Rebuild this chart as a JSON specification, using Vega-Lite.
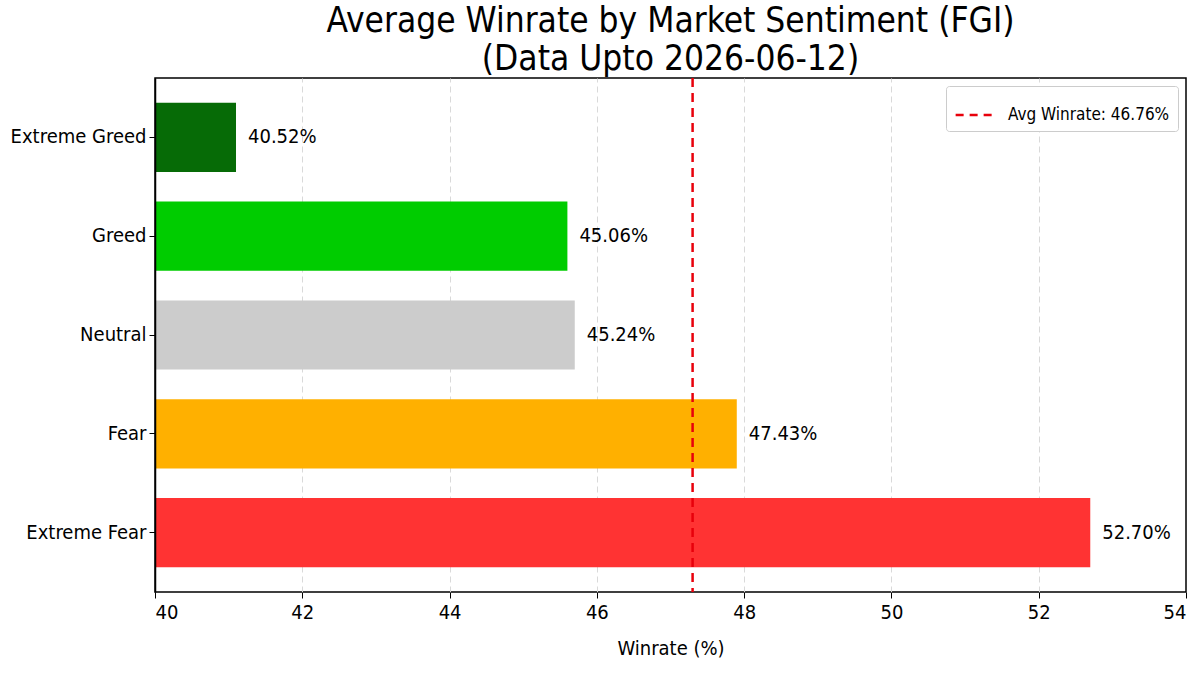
{
  "$schema": "https://vega.github.io/schema/vega-lite/v6.json",
  "autosize": "none",
  "width": 1031,
  "height": 514,
  "padding": {"left": 155, "top": 78, "right": 14, "bottom": 83},
  "background": "white",
  "title": {
    "text": ["Average Winrate by Market Sentiment (FGI)", "(Data Upto 2026-06-12)"],
    "font": "DejaVu Sans Condensed, DejaVu Sans",
    "fontSize": 35,
    "fontWeight": "normal",
    "color": "black",
    "lineHeight": 38,
    "anchor": "middle",
    "offset": 0
  },
  "config": {
    "font": "DejaVu Sans Condensed, DejaVu Sans",
    "view": {"stroke": "black", "strokeWidth": 1.5},
    "axis": {
      "labelFont": "DejaVu Sans Condensed, DejaVu Sans",
      "titleFont": "DejaVu Sans Condensed, DejaVu Sans",
      "labelColor": "black",
      "titleColor": "black",
      "tickColor": "black",
      "domainColor": "black",
      "labelFontSize": 20,
      "titleFontSize": 20,
      "titleFontWeight": "normal",
      "tickSize": 6
    }
  },
  "layer": [
    {
      "data": {
        "values": [
          {"sentiment": "Extreme Greed", "winrate": 41.1, "label": "40.52%"},
          {"sentiment": "Greed", "winrate": 45.6, "label": "45.06%"},
          {"sentiment": "Neutral", "winrate": 45.7, "label": "45.24%"},
          {"sentiment": "Fear", "winrate": 47.9, "label": "47.43%"},
          {"sentiment": "Extreme Fear", "winrate": 52.7, "label": "52.70%"}
        ]
      },
      "encoding": {
        "y": {
          "field": "sentiment",
          "type": "nominal",
          "sort": ["Extreme Greed", "Greed", "Neutral", "Fear", "Extreme Fear"],
          "scale": {"paddingInner": 0.3, "paddingOuter": 0.25},
          "axis": {"title": null, "grid": false, "labelPadding": 3, "domain": true, "domainWidth": 1.5, "zindex": 1}
        },
        "x": {
          "field": "winrate",
          "type": "quantitative",
          "scale": {"domain": [40, 54], "nice": false, "zero": false},
          "axis": {
            "title": "Winrate (%)",
            "values": [40, 42, 44, 46, 48, 50, 52, 54],
            "format": "d",
            "grid": true,
            "gridDash": [6, 4],
            "gridColor": "#d9d9d9",
            "gridWidth": 1,
            "gridOpacity": {"condition": {"test": "datum.value == 40 || datum.value == 54", "value": 0}, "value": 1},
            "labelPadding": 4,
            "titlePadding": 16,
            "domain": false
          }
        }
      },
      "layer": [
        {
          "mark": {"type": "bar"},
          "encoding": {
            "x2": {"datum": 40},
            "color": {
              "field": "sentiment",
              "type": "nominal",
              "scale": {
                "domain": ["Extreme Greed", "Greed", "Neutral", "Fear", "Extreme Fear"],
                "range": ["#066b06", "#00cc00", "#cccccc", "#ffb000", "#ff3333"]
              },
              "legend": null
            }
          }
        },
        {
          "mark": {"type": "text", "align": "left", "baseline": "middle", "dx": 12, "fontSize": 20, "color": "black"},
          "encoding": {"text": {"field": "label", "type": "nominal"}}
        }
      ]
    },
    {
      "data": {"values": [{"avg": 47.3, "name": "Avg Winrate: 46.76%"}]},
      "mark": {"type": "rule", "strokeDash": [9, 6], "strokeWidth": 2.5},
      "encoding": {
        "x": {"field": "avg", "type": "quantitative"},
        "color": {
          "field": "name",
          "type": "nominal",
          "scale": {"range": ["#e8000b"]},
          "legend": {
            "title": null,
            "orient": "top-right",
            "offset": 8,
            "symbolType": "stroke",
            "symbolDash": [8, 6],
            "symbolStrokeWidth": 2.5,
            "symbolSize": 1500,
            "labelFontSize": 17,
            "labelLimit": 400,
            "labelColor": "black",
            "labelFont": "DejaVu Sans Condensed, DejaVu Sans",
            "labelOffset": 12,
            "fillColor": "white",
            "strokeColor": "#cccccc",
            "cornerRadius": 3,
            "padding": 8
          }
        }
      }
    }
  ],
  "resolve": {"scale": {"color": "independent"}}
}
